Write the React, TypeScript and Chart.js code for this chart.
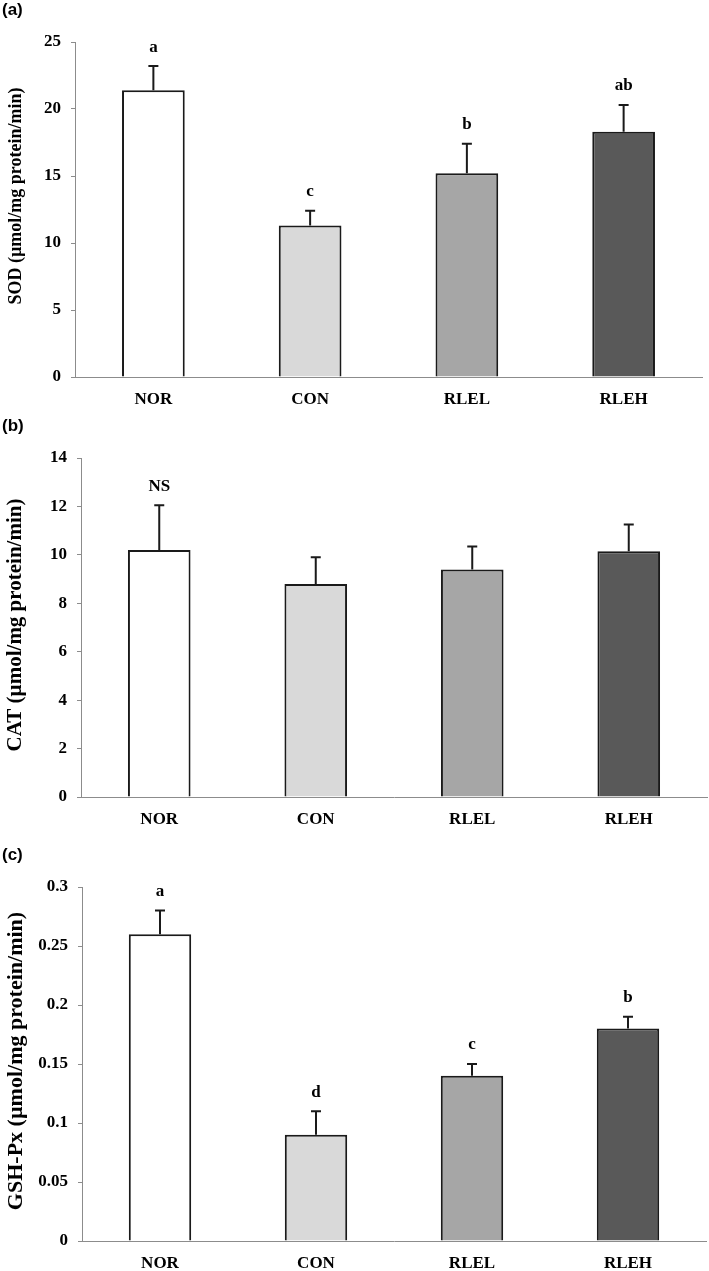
import React, { useEffect, useRef } from "react";
import { Chart, registerables } from "chart.js";

Chart.register(...registerables);

const categories = ["NOR", "CON", "RLEL", "RLEH"];
const barColors = ["#ffffff", "#d9d9d9", "#a6a6a6", "#595959"];

const sodValues = [21.4, 11.3, 15.2, 18.3];
const sodErrors = [1.8, 1.1, 2.2, 2.0];
const sodLetters = ["a", "c", "b", "ab"];

const catValues = [10.2, 8.8, 9.4, 10.15];
const catErrors = [1.85, 1.1, 0.95, 1.1];
const catLetters = ["NS", "", "", ""];

const gshValues = [0.26, 0.09, 0.14, 0.18];
const gshErrors = [0.02, 0.02, 0.01, 0.01];
const gshLetters = ["a", "d", "c", "b"];

const SERIF = "'Liberation Serif', 'Times New Roman', serif";

type PanelProps = {
  label: string;
  title: string;
  titleSize: number;
  titleCy: number;
  values: number[];
  errors: number[];
  letters: string[];
  yMax: number;
  yStep: number;
  top: number;
  height: number;
  plotTop: number;
  plotBottom: number;
  plotLeft: number;
  plotRight: number;
};

const errorPlugin = {
  id: "errorLetters",
  afterDatasetsDraw(chart: any, _args: any, opts: any) {
    const { ctx } = chart;
    const meta = chart.getDatasetMeta(0);
    const y = chart.scales.y;
    ctx.save();
    meta.data.forEach((bar: any, i: number) => {
      const v = opts.values[i];
      const e = opts.errors[i];
      const yTop = y.getPixelForValue(v);
      const yErr = y.getPixelForValue(v + e);
      const x = bar.x;
      ctx.strokeStyle = "#1a1a1a";
      ctx.lineWidth = 2;
      ctx.beginPath();
      ctx.moveTo(x, yTop);
      ctx.lineTo(x, yErr);
      ctx.moveTo(x - 5, yErr);
      ctx.lineTo(x + 5, yErr);
      ctx.stroke();
      const letter = opts.letters[i];
      if (letter) {
        ctx.fillStyle = "#000";
        ctx.font = `bold 17px ${SERIF}`;
        ctx.textAlign = "center";
        ctx.textBaseline = "middle";
        ctx.fillText(letter, x, yErr - 19);
      }
    });
    // rotated y-axis title
    ctx.fillStyle = "#000";
    ctx.font = `bold ${opts.titleSize}px ${SERIF}`;
    ctx.textAlign = "center";
    ctx.textBaseline = "middle";
    ctx.translate(opts.titleCx, opts.titleCy);
    ctx.rotate(-Math.PI / 2);
    ctx.fillText(opts.title, 0, 0);
    ctx.restore();
  },
};

function fmt(v: any) {
  return String(parseFloat(Number(v).toFixed(3)));
}

function Panel(p: PanelProps) {
  const ref = useRef<HTMLCanvasElement | null>(null);
  useEffect(() => {
    if (!ref.current) return;
    const axisH = p.top + p.height - p.plotBottom;
    const chart = new Chart(ref.current, {
      type: "bar",
      data: {
        labels: categories,
        datasets: [
          {
            data: p.values,
            backgroundColor: barColors,
            borderColor: "#1a1a1a",
            borderWidth: 2,
            categoryPercentage: 1,
            barPercentage: 0.4,
          },
        ],
      },
      options: {
        animation: false,
        responsive: true,
        maintainAspectRatio: false,
        layout: {
          padding: {
            top: p.plotTop - p.top,
            bottom: 0,
            left: 0,
            right: 709 - p.plotRight,
          },
        },
        plugins: {
          legend: { display: false },
          tooltip: { enabled: false },
          errorLetters: {
            values: p.values,
            errors: p.errors,
            letters: p.letters,
            title: p.title,
            titleSize: p.titleSize,
            titleCx: 16,
            titleCy: p.titleCy - p.top,
          },
        } as any,
        scales: {
          x: {
            grid: { display: false, drawTicks: false },
            border: { display: true, color: "#8c8c8c", width: 1 },
            ticks: {
              color: "#000",
              padding: 12,
              font: { family: SERIF, size: 17, weight: "bold" },
            },
            afterFit(scale: any) {
              scale.height = axisH;
            },
          },
          y: {
            min: 0,
            max: p.yMax,
            grid: {
              display: true,
              drawOnChartArea: false,
              drawTicks: true,
              tickLength: 4,
              color: "#8c8c8c",
            },
            border: { display: true, color: "#8c8c8c", width: 1 },
            ticks: {
              stepSize: p.yStep,
              color: "#000",
              padding: 10,
              font: { family: SERIF, size: 17, weight: "bold" },
              callback: (v: any) => fmt(v),
            },
            afterFit(scale: any) {
              scale.width = p.plotLeft;
            },
          },
        },
      },
      plugins: [errorPlugin],
    });
    return () => chart.destroy();
  }, []);

  return (
    <div
      style={{
        position: "absolute",
        left: 0,
        top: p.top,
        width: 709,
        height: p.height,
      }}
    >
      <canvas ref={ref} />
      <div
        style={{
          position: "absolute",
          left: 2,
          top: p.plotTop - p.top - 42,
          fontFamily: "'Liberation Sans', Arial, sans-serif",
          fontWeight: "bold",
          fontSize: 17,
          lineHeight: "20px",
          color: "#000",
        }}
      >
        {p.label}
      </div>
    </div>
  );
}

export default function App() {
  return (
    <div
      style={{
        position: "absolute",
        left: 0,
        top: 0,
        width: 709,
        height: 1271,
        background: "#fff",
      }}
    >
      <Panel
        label="(a)"
        title="SOD (µmol/mg protein/min)"
        titleSize={18}
        titleCy={196}
        values={sodValues}
        errors={sodErrors}
        letters={sodLetters}
        yMax={25}
        yStep={5}
        top={0}
        height={405}
        plotTop={42}
        plotBottom={377}
        plotLeft={75}
        plotRight={702}
      />
      <Panel
        label="(b)"
        title="CAT (µmol/mg protein/min)"
        titleSize={21}
        titleCy={625}
        values={catValues}
        errors={catErrors}
        letters={catLetters}
        yMax={14}
        yStep={2}
        top={410}
        height={435}
        plotTop={458}
        plotBottom={797}
        plotLeft={81}
        plotRight={707}
      />
      <Panel
        label="(c)"
        title="GSH-Px (µmol/mg protein/min)"
        titleSize={22}
        titleCy={1061}
        values={gshValues}
        errors={gshErrors}
        letters={gshLetters}
        yMax={0.3}
        yStep={0.05}
        top={845}
        height={426}
        plotTop={887}
        plotBottom={1241}
        plotLeft={82}
        plotRight={706}
      />
    </div>
  );
}
